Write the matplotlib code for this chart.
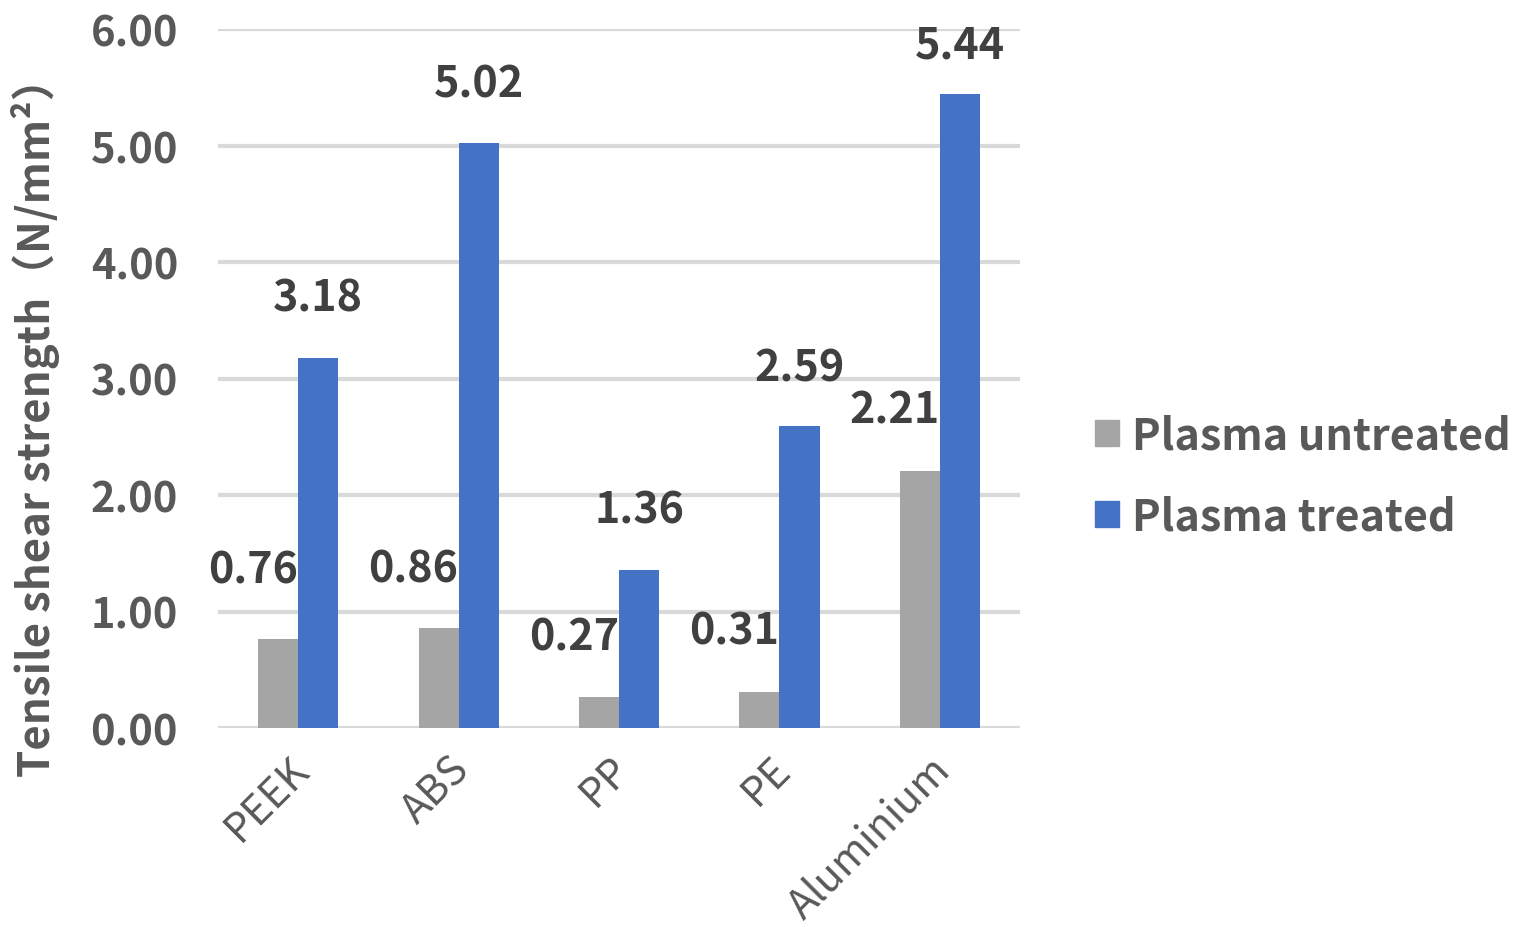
import numpy as np
import matplotlib
matplotlib.use("Agg")
import matplotlib.pyplot as plt
import matplotlib.transforms as mtransforms
from matplotlib.patches import Patch

plt.rcParams['font.family'] = ['Noto Sans CJK JP', 'DejaVu Sans']

# data
materials = ["PEEK", "ABS", "PP", "PE", "Aluminium"]
untreated = [0.76, 0.86, 0.27, 0.31, 2.21]
treated = [3.18, 5.02, 1.36, 2.59, 5.44]
series_names = ["Plasma untreated", "Plasma treated"]
yticks = [0, 1, 2, 3, 4, 5, 6]

GREY = "#A5A5A5"
BLUE = "#4472C4"
TXT = "#595959"
LBL = "#404040"
PX = 72 / 100  # points per pixel at dpi 100

fig = plt.figure(figsize=(15.3, 9.28), dpi=100)
ax = fig.add_axes([218 / 1530, 1 - 729 / 928, 802 / 1530, 699 / 928])

x = np.arange(len(materials))
w = 0.25
ax.bar(x - w / 2, untreated, w, color=GREY, zorder=3)
ax.bar(x + w / 2, treated, w, color=BLUE, zorder=3)

ax.set_xlim(-0.5, len(materials) - 0.5)
ax.set_ylim(0, 6)
ax.set_yticks(yticks)
ax.set_yticklabels([f"{v:.2f}" for v in yticks])
ax.grid(axis="y", color="#D9D9D9", linewidth=3, zorder=0)
ax.set_axisbelow(True)
for s in ax.spines.values():
    s.set_visible(False)
ax.tick_params(axis="y", length=0, pad=40 * PX, labelsize=30, labelcolor=TXT)
ax.tick_params(axis="x", length=0, pad=20 * PX, labelsize=29.5, labelcolor=TXT)
for lab in ax.get_yticklabels():
    lab.set_fontweight("bold")
ax.set_xticks(x)
ax.set_xticklabels(materials, rotation=45, ha="right", va="top", rotation_mode="anchor")
shift = mtransforms.ScaledTranslation(-10 / 100, 0, fig.dpi_scale_trans)
for lab in ax.get_xticklabels():
    lab.set_transform(lab.get_transform() + shift)

# data labels (Excel moved a few of them by hand)
grey_dy = [70, 59, 60, 61, 61]
blue_dy = [60, 60, 60, 59, 50]
for i in range(len(materials)):
    ax.annotate(f"{untreated[i]:.2f}", (x[i] - w / 2, untreated[i]),
                xytext=(-25 * PX, grey_dy[i] * PX), textcoords="offset points",
                ha="center", va="center", fontsize=31, fontweight="bold", color=LBL)
    ax.annotate(f"{treated[i]:.2f}", (x[i] + w / 2, treated[i]),
                xytext=(0, blue_dy[i] * PX), textcoords="offset points",
                ha="center", va="center", fontsize=31, fontweight="bold", color=LBL,
                annotation_clip=False)

ax.set_ylabel("Tensile shear strength（N/mm²）", fontsize=31.5, fontweight="bold", color=TXT,
              va="center")
ax.yaxis.set_label_coords(-0.227, 0.446)

handles = [Patch(color=GREY), Patch(color=BLUE)]
fig.legend(handles, series_names, loc="center left", bbox_to_anchor=(1095 / 1530, 1 - 477 / 928),
           frameon=False, handlelength=0.55, handleheight=0.55, handletextpad=0.3,
           labelspacing=0.85, borderpad=0, borderaxespad=0, labelcolor=TXT,
           prop={"weight": "bold", "size": 31})

fig.savefig("out.png", dpi=100)
